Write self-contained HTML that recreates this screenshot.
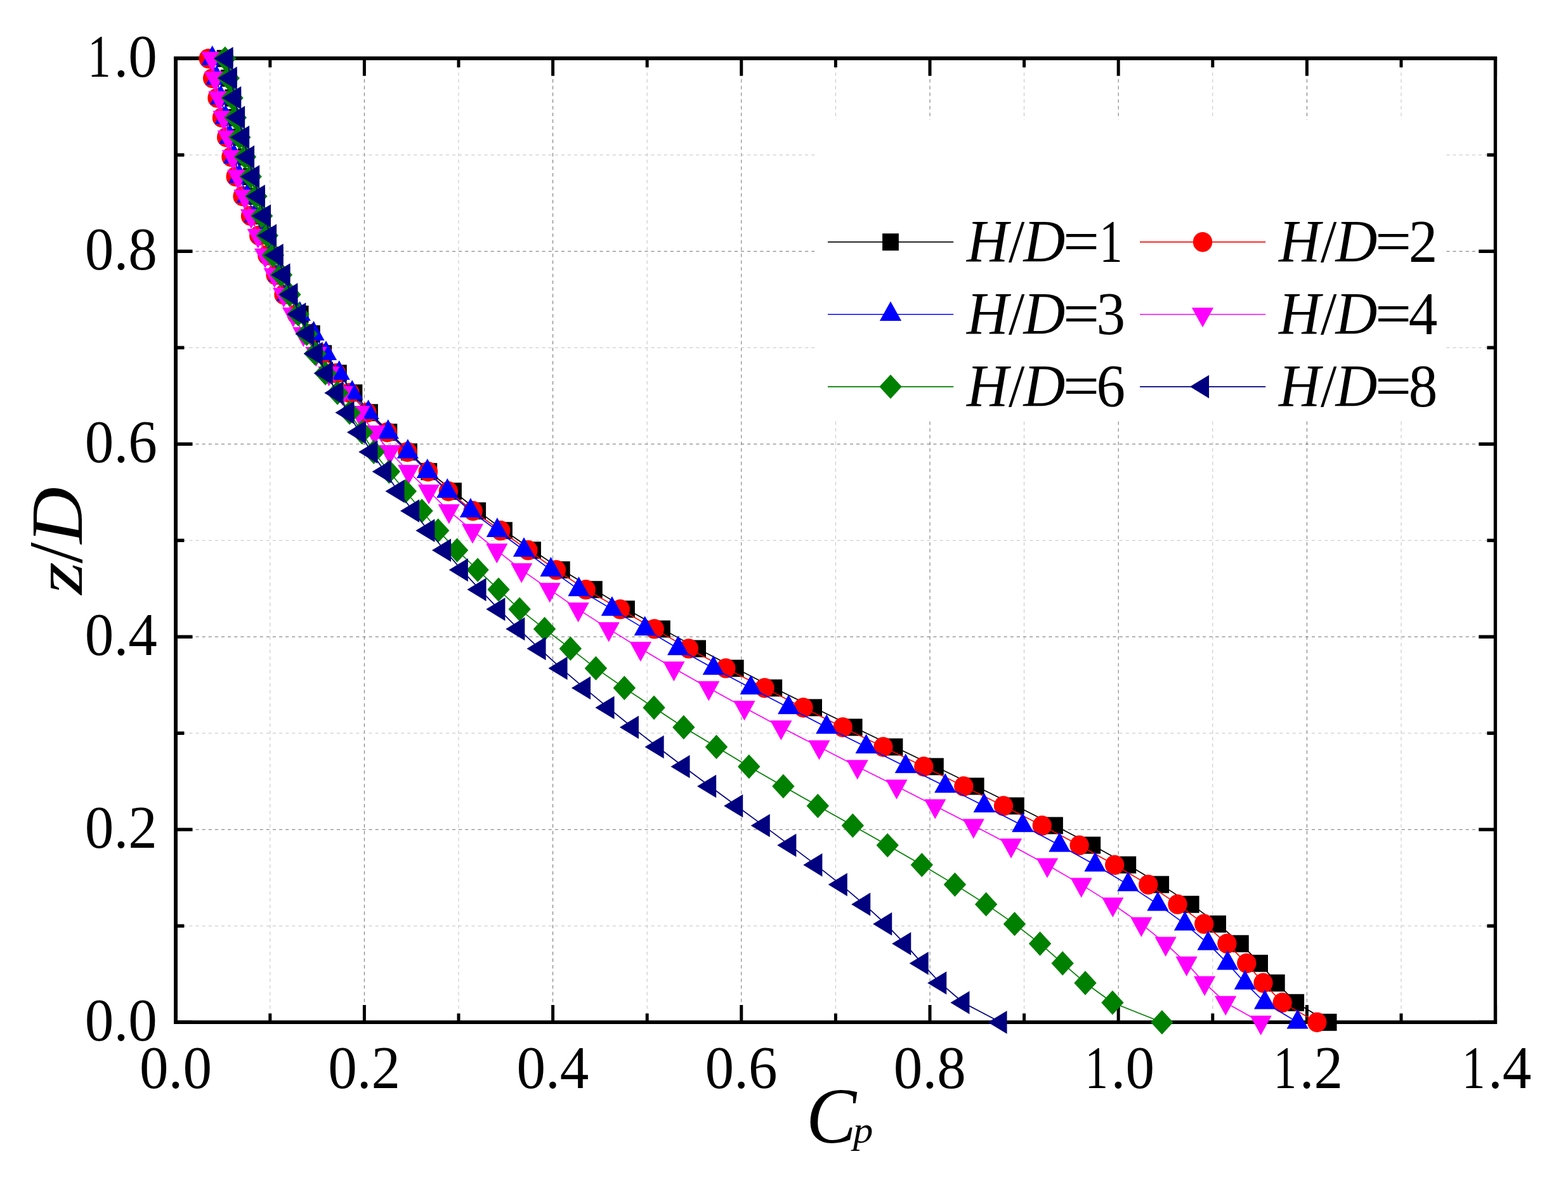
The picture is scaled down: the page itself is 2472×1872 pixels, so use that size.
<!DOCTYPE html>
<html lang="en"><head><meta charset="utf-8"><title>Cp versus z/D</title>
<style>html,body{margin:0;padding:0;background:#fff;overflow:hidden}svg{display:block}text{font-family:"Liberation Serif","DejaVu Serif",serif;fill:#000}.i{font-style:italic}</style></head><body>
<svg width="2472" height="1872" viewBox="0 0 2472 1872">
<rect width="2472" height="1872" fill="#fff"/>
<g fill="none"><line x1="425.8" y1="93.1" x2="425.8" y2="1612.25" stroke="#c2c2c2" stroke-width="1.0" stroke-dasharray="5.4 5.185"/><line x1="574.4" y1="93.1" x2="574.4" y2="1612.25" stroke="#6e6e6e" stroke-width="1.0" stroke-dasharray="5.4 5.185"/><line x1="723" y1="93.1" x2="723" y2="1612.25" stroke="#c2c2c2" stroke-width="1.0" stroke-dasharray="5.4 5.185"/><line x1="871.6" y1="93.1" x2="871.6" y2="1612.25" stroke="#6e6e6e" stroke-width="1.0" stroke-dasharray="5.4 5.185"/><line x1="1020.2" y1="93.1" x2="1020.2" y2="1612.25" stroke="#c2c2c2" stroke-width="1.0" stroke-dasharray="5.4 5.185"/><line x1="1168.8" y1="93.1" x2="1168.8" y2="1612.25" stroke="#6e6e6e" stroke-width="1.0" stroke-dasharray="5.4 5.185"/><line x1="1317.4" y1="93.1" x2="1317.4" y2="1612.25" stroke="#c2c2c2" stroke-width="1.0" stroke-dasharray="5.4 5.185"/><line x1="1466" y1="93.1" x2="1466" y2="1612.25" stroke="#6e6e6e" stroke-width="1.0" stroke-dasharray="5.4 5.185"/><line x1="1614.6" y1="93.1" x2="1614.6" y2="1612.25" stroke="#c2c2c2" stroke-width="1.0" stroke-dasharray="5.4 5.185"/><line x1="1763.2" y1="93.1" x2="1763.2" y2="1612.25" stroke="#6e6e6e" stroke-width="1.0" stroke-dasharray="5.4 5.185"/><line x1="1911.8" y1="93.1" x2="1911.8" y2="1612.25" stroke="#c2c2c2" stroke-width="1.0" stroke-dasharray="5.4 5.185"/><line x1="2060.4" y1="93.1" x2="2060.4" y2="1612.25" stroke="#6e6e6e" stroke-width="1.0" stroke-dasharray="5.4 5.185"/><line x1="2209" y1="93.1" x2="2209" y2="1612.25" stroke="#c2c2c2" stroke-width="1.0" stroke-dasharray="5.4 5.185"/><line x1="278.2" y1="1460.26" x2="2357.6" y2="1460.26" stroke="#c2c2c2" stroke-width="1.0" stroke-dasharray="5.06 5.052"/><line x1="278.2" y1="1308.27" x2="2357.6" y2="1308.27" stroke="#6e6e6e" stroke-width="1.0" stroke-dasharray="5.06 5.052"/><line x1="278.2" y1="1156.28" x2="2357.6" y2="1156.28" stroke="#c2c2c2" stroke-width="1.0" stroke-dasharray="5.06 5.052"/><line x1="278.2" y1="1004.29" x2="2357.6" y2="1004.29" stroke="#6e6e6e" stroke-width="1.0" stroke-dasharray="5.06 5.052"/><line x1="278.2" y1="852.3" x2="2357.6" y2="852.3" stroke="#c2c2c2" stroke-width="1.0" stroke-dasharray="5.06 5.052"/><line x1="278.2" y1="700.31" x2="2357.6" y2="700.31" stroke="#6e6e6e" stroke-width="1.0" stroke-dasharray="5.06 5.052"/><line x1="278.2" y1="548.32" x2="2357.6" y2="548.32" stroke="#c2c2c2" stroke-width="1.0" stroke-dasharray="5.06 5.052"/><line x1="278.2" y1="396.33" x2="2357.6" y2="396.33" stroke="#6e6e6e" stroke-width="1.0" stroke-dasharray="5.06 5.052"/><line x1="278.2" y1="244.34" x2="2357.6" y2="244.34" stroke="#c2c2c2" stroke-width="1.0" stroke-dasharray="5.06 5.052"/></g>
<rect x="1284.5" y="188.8" width="990.5" height="474.2" fill="#fff"/>
<g stroke="#000" fill="none"><line x1="277.2" y1="1612.25" x2="277.2" y2="1584.95" stroke-width="5.0"/><line x1="277.2" y1="92.35" x2="277.2" y2="119.65" stroke-width="5.0"/><line x1="425.8" y1="1612.25" x2="425.8" y2="1598.35" stroke-width="5.0"/><line x1="425.8" y1="92.35" x2="425.8" y2="106.25" stroke-width="5.0"/><line x1="574.4" y1="1612.25" x2="574.4" y2="1584.95" stroke-width="5.0"/><line x1="574.4" y1="92.35" x2="574.4" y2="119.65" stroke-width="5.0"/><line x1="723" y1="1612.25" x2="723" y2="1598.35" stroke-width="5.0"/><line x1="723" y1="92.35" x2="723" y2="106.25" stroke-width="5.0"/><line x1="871.6" y1="1612.25" x2="871.6" y2="1584.95" stroke-width="5.0"/><line x1="871.6" y1="92.35" x2="871.6" y2="119.65" stroke-width="5.0"/><line x1="1020.2" y1="1612.25" x2="1020.2" y2="1598.35" stroke-width="5.0"/><line x1="1020.2" y1="92.35" x2="1020.2" y2="106.25" stroke-width="5.0"/><line x1="1168.8" y1="1612.25" x2="1168.8" y2="1584.95" stroke-width="5.0"/><line x1="1168.8" y1="92.35" x2="1168.8" y2="119.65" stroke-width="5.0"/><line x1="1317.4" y1="1612.25" x2="1317.4" y2="1598.35" stroke-width="5.0"/><line x1="1317.4" y1="92.35" x2="1317.4" y2="106.25" stroke-width="5.0"/><line x1="1466" y1="1612.25" x2="1466" y2="1584.95" stroke-width="5.0"/><line x1="1466" y1="92.35" x2="1466" y2="119.65" stroke-width="5.0"/><line x1="1614.6" y1="1612.25" x2="1614.6" y2="1598.35" stroke-width="5.0"/><line x1="1614.6" y1="92.35" x2="1614.6" y2="106.25" stroke-width="5.0"/><line x1="1763.2" y1="1612.25" x2="1763.2" y2="1584.95" stroke-width="5.0"/><line x1="1763.2" y1="92.35" x2="1763.2" y2="119.65" stroke-width="5.0"/><line x1="1911.8" y1="1612.25" x2="1911.8" y2="1598.35" stroke-width="5.0"/><line x1="1911.8" y1="92.35" x2="1911.8" y2="106.25" stroke-width="5.0"/><line x1="2060.4" y1="1612.25" x2="2060.4" y2="1584.95" stroke-width="5.0"/><line x1="2060.4" y1="92.35" x2="2060.4" y2="119.65" stroke-width="5.0"/><line x1="2209" y1="1612.25" x2="2209" y2="1598.35" stroke-width="5.0"/><line x1="2209" y1="92.35" x2="2209" y2="106.25" stroke-width="5.0"/><line x1="2357.6" y1="1612.25" x2="2357.6" y2="1584.95" stroke-width="5.0"/><line x1="2357.6" y1="92.35" x2="2357.6" y2="119.65" stroke-width="5.0"/><line x1="277.2" y1="1612.25" x2="303.5" y2="1612.25" stroke-width="5.4"/><line x1="2357.6" y1="1612.25" x2="2331.3" y2="1612.25" stroke-width="5.4"/><line x1="277.2" y1="1460.26" x2="290.4" y2="1460.26" stroke-width="5.4"/><line x1="2357.6" y1="1460.26" x2="2344.4" y2="1460.26" stroke-width="5.4"/><line x1="277.2" y1="1308.27" x2="303.5" y2="1308.27" stroke-width="5.4"/><line x1="2357.6" y1="1308.27" x2="2331.3" y2="1308.27" stroke-width="5.4"/><line x1="277.2" y1="1156.28" x2="290.4" y2="1156.28" stroke-width="5.4"/><line x1="2357.6" y1="1156.28" x2="2344.4" y2="1156.28" stroke-width="5.4"/><line x1="277.2" y1="1004.29" x2="303.5" y2="1004.29" stroke-width="5.4"/><line x1="2357.6" y1="1004.29" x2="2331.3" y2="1004.29" stroke-width="5.4"/><line x1="277.2" y1="852.3" x2="290.4" y2="852.3" stroke-width="5.4"/><line x1="2357.6" y1="852.3" x2="2344.4" y2="852.3" stroke-width="5.4"/><line x1="277.2" y1="700.31" x2="303.5" y2="700.31" stroke-width="5.4"/><line x1="2357.6" y1="700.31" x2="2331.3" y2="700.31" stroke-width="5.4"/><line x1="277.2" y1="548.32" x2="290.4" y2="548.32" stroke-width="5.4"/><line x1="2357.6" y1="548.32" x2="2344.4" y2="548.32" stroke-width="5.4"/><line x1="277.2" y1="396.33" x2="303.5" y2="396.33" stroke-width="5.4"/><line x1="2357.6" y1="396.33" x2="2331.3" y2="396.33" stroke-width="5.4"/><line x1="277.2" y1="244.34" x2="290.4" y2="244.34" stroke-width="5.4"/><line x1="2357.6" y1="244.34" x2="2344.4" y2="244.34" stroke-width="5.4"/><line x1="277.2" y1="92.35" x2="303.5" y2="92.35" stroke-width="5.4"/><line x1="2357.6" y1="92.35" x2="2331.3" y2="92.35" stroke-width="5.4"/></g>
<g stroke="#000" fill="none" stroke-linecap="butt"><line x1="274.15" y1="92" x2="2360.1" y2="92" stroke-width="6"/><line x1="274.15" y1="1612.2" x2="2360.1" y2="1612.2" stroke-width="5.7"/><line x1="277.05" y1="89" x2="277.05" y2="1615.05" stroke-width="5.9"/><line x1="2357.45" y1="89" x2="2357.45" y2="1615.05" stroke-width="5.3"/></g>
<g fill="#000000" stroke="none"><polyline points="2094.6,1612.25 2043.2,1581.23 2012.8,1550.21 1986.1,1519.19 1955.9,1488.18 1920.1,1457.16 1877.7,1426.14 1830.2,1395.12 1778.3,1364.1 1722.3,1333.08 1663,1302.07 1601.9,1271.05 1538.7,1240.03 1474.9,1209.01 1410.5,1177.99 1346.7,1146.97 1283.1,1115.96 1220.3,1084.94 1159.8,1053.92 1100.1,1022.9 1043.9,991.88 988,960.86 936.9,929.85 885.8,898.83 840.05,867.81 795,836.79 753.2,805.77 715,774.75 676.3,743.74 645,712.72 613.4,681.7 583,650.68 558.5,619.66 533.85,588.64 510.2,557.63 491.8,526.61 473.65,495.59 456.3,464.57 444.4,433.55 433.6,402.53 423,371.52 414,340.5 404.8,309.48 396.1,278.46 388,247.44 380.1,216.42 373.1,185.41 367.2,154.39 360.65,123.37 354.5,92.35" fill="none" stroke="#000000" stroke-width="1.7" stroke-linejoin="round"/><path d="M2081.7 1598.75h25.8v27h-25.8zM2030.3 1567.73h25.8v27h-25.8zM1999.9 1536.71h25.8v27h-25.8zM1973.2 1505.69h25.8v27h-25.8zM1943 1474.68h25.8v27h-25.8zM1907.2 1443.66h25.8v27h-25.8zM1864.8 1412.64h25.8v27h-25.8zM1817.3 1381.62h25.8v27h-25.8zM1765.4 1350.6h25.8v27h-25.8zM1709.4 1319.58h25.8v27h-25.8zM1650.1 1288.57h25.8v27h-25.8zM1589 1257.55h25.8v27h-25.8zM1525.8 1226.53h25.8v27h-25.8zM1462 1195.51h25.8v27h-25.8zM1397.6 1164.49h25.8v27h-25.8zM1333.8 1133.47h25.8v27h-25.8zM1270.2 1102.46h25.8v27h-25.8zM1207.4 1071.44h25.8v27h-25.8zM1146.9 1040.42h25.8v27h-25.8zM1087.2 1009.4h25.8v27h-25.8zM1031 978.38h25.8v27h-25.8zM975.1 947.36h25.8v27h-25.8zM924 916.35h25.8v27h-25.8zM872.9 885.33h25.8v27h-25.8zM827.15 854.31h25.8v27h-25.8zM782.1 823.29h25.8v27h-25.8zM740.3 792.27h25.8v27h-25.8zM702.1 761.25h25.8v27h-25.8zM663.4 730.24h25.8v27h-25.8zM632.1 699.22h25.8v27h-25.8zM600.5 668.2h25.8v27h-25.8zM570.1 637.18h25.8v27h-25.8zM545.6 606.16h25.8v27h-25.8zM520.95 575.14h25.8v27h-25.8zM497.3 544.13h25.8v27h-25.8zM478.9 513.11h25.8v27h-25.8zM460.75 482.09h25.8v27h-25.8zM443.4 451.07h25.8v27h-25.8zM431.5 420.05h25.8v27h-25.8zM420.7 389.03h25.8v27h-25.8zM410.1 358.02h25.8v27h-25.8zM401.1 327h25.8v27h-25.8zM391.9 295.98h25.8v27h-25.8zM383.2 264.96h25.8v27h-25.8zM375.1 233.94h25.8v27h-25.8zM367.2 202.92h25.8v27h-25.8zM360.2 171.91h25.8v27h-25.8zM354.3 140.89h25.8v27h-25.8zM347.75 109.87h25.8v27h-25.8zM341.6 78.85h25.8v27h-25.8z"/></g>
<g fill="#ff0000" stroke="none"><polyline points="2076.3,1612.25 2021.6,1581.23 1991.5,1550.21 1965.3,1519.19 1934.4,1488.18 1898.2,1457.16 1856.5,1426.14 1810.25,1395.12 1757.2,1364.1 1701.6,1333.08 1642.8,1302.07 1582,1271.05 1519.3,1240.03 1456.3,1209.01 1392.4,1177.99 1328.7,1146.97 1266.5,1115.96 1205.5,1084.94 1144.35,1053.92 1085.9,1022.9 1031.7,991.88 977.8,960.86 923.7,929.85 876.9,898.83 832.5,867.81 789.2,836.79 745.7,805.77 706.9,774.75 674.9,743.74 642.4,712.72 610.6,681.7 578.55,650.68 551.6,619.66 530.2,588.64 508.5,557.63 488,526.61 467.5,495.59 447.4,464.57 434.5,433.55 421.3,402.53 408.2,371.52 395,340.5 382.5,309.48 371.6,278.46 364.4,247.44 357.15,216.42 349.9,185.41 342.5,154.39 335.1,123.37 328.7,92.35" fill="none" stroke="#ff0000" stroke-width="1.7" stroke-linejoin="round"/><ellipse cx="2076.3" cy="1612.25" rx="15.15" ry="15.7"/><ellipse cx="2021.6" cy="1581.23" rx="15.15" ry="15.7"/><ellipse cx="1991.5" cy="1550.21" rx="15.15" ry="15.7"/><ellipse cx="1965.3" cy="1519.19" rx="15.15" ry="15.7"/><ellipse cx="1934.4" cy="1488.18" rx="15.15" ry="15.7"/><ellipse cx="1898.2" cy="1457.16" rx="15.15" ry="15.7"/><ellipse cx="1856.5" cy="1426.14" rx="15.15" ry="15.7"/><ellipse cx="1810.25" cy="1395.12" rx="15.15" ry="15.7"/><ellipse cx="1757.2" cy="1364.1" rx="15.15" ry="15.7"/><ellipse cx="1701.6" cy="1333.08" rx="15.15" ry="15.7"/><ellipse cx="1642.8" cy="1302.07" rx="15.15" ry="15.7"/><ellipse cx="1582" cy="1271.05" rx="15.15" ry="15.7"/><ellipse cx="1519.3" cy="1240.03" rx="15.15" ry="15.7"/><ellipse cx="1456.3" cy="1209.01" rx="15.15" ry="15.7"/><ellipse cx="1392.4" cy="1177.99" rx="15.15" ry="15.7"/><ellipse cx="1328.7" cy="1146.97" rx="15.15" ry="15.7"/><ellipse cx="1266.5" cy="1115.96" rx="15.15" ry="15.7"/><ellipse cx="1205.5" cy="1084.94" rx="15.15" ry="15.7"/><ellipse cx="1144.35" cy="1053.92" rx="15.15" ry="15.7"/><ellipse cx="1085.9" cy="1022.9" rx="15.15" ry="15.7"/><ellipse cx="1031.7" cy="991.88" rx="15.15" ry="15.7"/><ellipse cx="977.8" cy="960.86" rx="15.15" ry="15.7"/><ellipse cx="923.7" cy="929.85" rx="15.15" ry="15.7"/><ellipse cx="876.9" cy="898.83" rx="15.15" ry="15.7"/><ellipse cx="832.5" cy="867.81" rx="15.15" ry="15.7"/><ellipse cx="789.2" cy="836.79" rx="15.15" ry="15.7"/><ellipse cx="745.7" cy="805.77" rx="15.15" ry="15.7"/><ellipse cx="706.9" cy="774.75" rx="15.15" ry="15.7"/><ellipse cx="674.9" cy="743.74" rx="15.15" ry="15.7"/><ellipse cx="642.4" cy="712.72" rx="15.15" ry="15.7"/><ellipse cx="610.6" cy="681.7" rx="15.15" ry="15.7"/><ellipse cx="578.55" cy="650.68" rx="15.15" ry="15.7"/><ellipse cx="551.6" cy="619.66" rx="15.15" ry="15.7"/><ellipse cx="530.2" cy="588.64" rx="15.15" ry="15.7"/><ellipse cx="508.5" cy="557.63" rx="15.15" ry="15.7"/><ellipse cx="488" cy="526.61" rx="15.15" ry="15.7"/><ellipse cx="467.5" cy="495.59" rx="15.15" ry="15.7"/><ellipse cx="447.4" cy="464.57" rx="15.15" ry="15.7"/><ellipse cx="434.5" cy="433.55" rx="15.15" ry="15.7"/><ellipse cx="421.3" cy="402.53" rx="15.15" ry="15.7"/><ellipse cx="408.2" cy="371.52" rx="15.15" ry="15.7"/><ellipse cx="395" cy="340.5" rx="15.15" ry="15.7"/><ellipse cx="382.5" cy="309.48" rx="15.15" ry="15.7"/><ellipse cx="371.6" cy="278.46" rx="15.15" ry="15.7"/><ellipse cx="364.4" cy="247.44" rx="15.15" ry="15.7"/><ellipse cx="357.15" cy="216.42" rx="15.15" ry="15.7"/><ellipse cx="349.9" cy="185.41" rx="15.15" ry="15.7"/><ellipse cx="342.5" cy="154.39" rx="15.15" ry="15.7"/><ellipse cx="335.1" cy="123.37" rx="15.15" ry="15.7"/><ellipse cx="328.7" cy="92.35" rx="15.15" ry="15.7"/></g>
<g fill="#0000ff" stroke="none"><polyline points="2045.6,1612.25 1994.1,1581.23 1962.8,1550.21 1935.3,1519.19 1904.6,1488.18 1868,1457.16 1825.35,1426.14 1778.3,1395.12 1726.5,1364.1 1670.45,1333.08 1612.2,1302.07 1551.6,1271.05 1490.2,1240.03 1427.8,1209.01 1365.6,1177.99 1303.2,1146.97 1243.2,1115.96 1183.7,1084.94 1124.8,1053.92 1069.1,1022.9 1016.7,991.88 964.85,960.86 912.45,929.85 868.5,898.83 826,867.81 783.9,836.79 741.9,805.77 705.3,774.75 673.8,743.74 642.9,712.72 611.8,681.7 580.7,650.68 555.2,619.66 534.7,588.64 514,557.63 494.5,526.61 472.7,495.59 452.7,464.57 440.05,433.55 427.5,402.53 415.4,371.52 401.75,340.5 389.8,309.48 377.3,278.46 369.2,247.44 362.5,216.42 355.6,185.41 348.2,154.39 341.45,123.37 334.7,92.35" fill="none" stroke="#0000ff" stroke-width="1.7" stroke-linejoin="round"/><path d="M2045.6 1591.75l17.1 30.8h-34.2zM1994.1 1560.73l17.1 30.8h-34.2zM1962.8 1529.71l17.1 30.8h-34.2zM1935.3 1498.69l17.1 30.8h-34.2zM1904.6 1467.68l17.1 30.8h-34.2zM1868 1436.66l17.1 30.8h-34.2zM1825.35 1405.64l17.1 30.8h-34.2zM1778.3 1374.62l17.1 30.8h-34.2zM1726.5 1343.6l17.1 30.8h-34.2zM1670.45 1312.58l17.1 30.8h-34.2zM1612.2 1281.57l17.1 30.8h-34.2zM1551.6 1250.55l17.1 30.8h-34.2zM1490.2 1219.53l17.1 30.8h-34.2zM1427.8 1188.51l17.1 30.8h-34.2zM1365.6 1157.49l17.1 30.8h-34.2zM1303.2 1126.47l17.1 30.8h-34.2zM1243.2 1095.46l17.1 30.8h-34.2zM1183.7 1064.44l17.1 30.8h-34.2zM1124.8 1033.42l17.1 30.8h-34.2zM1069.1 1002.4l17.1 30.8h-34.2zM1016.7 971.38l17.1 30.8h-34.2zM964.85 940.36l17.1 30.8h-34.2zM912.45 909.35l17.1 30.8h-34.2zM868.5 878.33l17.1 30.8h-34.2zM826 847.31l17.1 30.8h-34.2zM783.9 816.29l17.1 30.8h-34.2zM741.9 785.27l17.1 30.8h-34.2zM705.3 754.25l17.1 30.8h-34.2zM673.8 723.24l17.1 30.8h-34.2zM642.9 692.22l17.1 30.8h-34.2zM611.8 661.2l17.1 30.8h-34.2zM580.7 630.18l17.1 30.8h-34.2zM555.2 599.16l17.1 30.8h-34.2zM534.7 568.14l17.1 30.8h-34.2zM514 537.13l17.1 30.8h-34.2zM494.5 506.11l17.1 30.8h-34.2zM472.7 475.09l17.1 30.8h-34.2zM452.7 444.07l17.1 30.8h-34.2zM440.05 413.05l17.1 30.8h-34.2zM427.5 382.03l17.1 30.8h-34.2zM415.4 351.02l17.1 30.8h-34.2zM401.75 320l17.1 30.8h-34.2zM389.8 288.98l17.1 30.8h-34.2zM377.3 257.96l17.1 30.8h-34.2zM369.2 226.94l17.1 30.8h-34.2zM362.5 195.92l17.1 30.8h-34.2zM355.6 164.91l17.1 30.8h-34.2zM348.2 133.89l17.1 30.8h-34.2zM341.45 102.87l17.1 30.8h-34.2zM334.7 71.85l17.1 30.8h-34.2z"/></g>
<g fill="#ff00ff" stroke="none"><polyline points="1987.7,1612.25 1932.2,1581.23 1899.1,1550.21 1870.6,1519.19 1837.65,1488.18 1799.3,1457.16 1754.3,1426.14 1704.7,1395.12 1651,1364.1 1594,1333.08 1534.8,1302.07 1474.25,1271.05 1413.5,1240.03 1351.7,1209.01 1291.5,1177.99 1231.4,1146.97 1173.5,1115.96 1117.3,1084.94 1062.4,1053.92 1009.9,1022.9 959.75,991.88 911.6,960.86 866.7,929.85 822.2,898.83 783.3,867.81 745,836.79 707.8,805.77 676,774.75 644.3,743.74 614.5,712.72 590.5,681.7 566.5,650.68 540,619.66 518.5,588.64 498.5,557.63 478.4,526.61 462.2,495.59 447.25,464.57 432.7,433.55 418.1,402.53 406.8,371.52 396,340.5 385.5,309.48 375.2,278.46 366.9,247.44 359.8,216.42 352.5,185.41 345.5,154.39 339,123.37 334.4,92.35" fill="none" stroke="#ff00ff" stroke-width="1.7" stroke-linejoin="round"/><path d="M1987.7 1632.85l17.1 -31.2h-34.2zM1932.2 1601.83l17.1 -31.2h-34.2zM1899.1 1570.81l17.1 -31.2h-34.2zM1870.6 1539.79l17.1 -31.2h-34.2zM1837.65 1508.78l17.1 -31.2h-34.2zM1799.3 1477.76l17.1 -31.2h-34.2zM1754.3 1446.74l17.1 -31.2h-34.2zM1704.7 1415.72l17.1 -31.2h-34.2zM1651 1384.7l17.1 -31.2h-34.2zM1594 1353.68l17.1 -31.2h-34.2zM1534.8 1322.67l17.1 -31.2h-34.2zM1474.25 1291.65l17.1 -31.2h-34.2zM1413.5 1260.63l17.1 -31.2h-34.2zM1351.7 1229.61l17.1 -31.2h-34.2zM1291.5 1198.59l17.1 -31.2h-34.2zM1231.4 1167.57l17.1 -31.2h-34.2zM1173.5 1136.56l17.1 -31.2h-34.2zM1117.3 1105.54l17.1 -31.2h-34.2zM1062.4 1074.52l17.1 -31.2h-34.2zM1009.9 1043.5l17.1 -31.2h-34.2zM959.75 1012.48l17.1 -31.2h-34.2zM911.6 981.46l17.1 -31.2h-34.2zM866.7 950.45l17.1 -31.2h-34.2zM822.2 919.43l17.1 -31.2h-34.2zM783.3 888.41l17.1 -31.2h-34.2zM745 857.39l17.1 -31.2h-34.2zM707.8 826.37l17.1 -31.2h-34.2zM676 795.35l17.1 -31.2h-34.2zM644.3 764.34l17.1 -31.2h-34.2zM614.5 733.32l17.1 -31.2h-34.2zM590.5 702.3l17.1 -31.2h-34.2zM566.5 671.28l17.1 -31.2h-34.2zM540 640.26l17.1 -31.2h-34.2zM518.5 609.24l17.1 -31.2h-34.2zM498.5 578.23l17.1 -31.2h-34.2zM478.4 547.21l17.1 -31.2h-34.2zM462.2 516.19l17.1 -31.2h-34.2zM447.25 485.17l17.1 -31.2h-34.2zM432.7 454.15l17.1 -31.2h-34.2zM418.1 423.13l17.1 -31.2h-34.2zM406.8 392.12l17.1 -31.2h-34.2zM396 361.1l17.1 -31.2h-34.2zM385.5 330.08l17.1 -31.2h-34.2zM375.2 299.06l17.1 -31.2h-34.2zM366.9 268.04l17.1 -31.2h-34.2zM359.8 237.02l17.1 -31.2h-34.2zM352.5 206.01l17.1 -31.2h-34.2zM345.5 174.99l17.1 -31.2h-34.2zM339 143.97l17.1 -31.2h-34.2zM334.4 112.95l17.1 -31.2h-34.2z"/></g>
<g fill="#008000" stroke="none"><polyline points="1831.9,1612.25 1753.9,1581.23 1711,1550.21 1675.2,1519.19 1639.6,1488.18 1599.5,1457.16 1554.6,1426.14 1505.4,1395.12 1453.3,1364.1 1399.2,1333.08 1344.35,1302.07 1289.3,1271.05 1234.9,1240.03 1180.8,1209.01 1129.45,1177.99 1077.85,1146.97 1031.05,1115.96 984.35,1084.94 939.4,1053.92 899.35,1022.9 858.55,991.88 819.1,960.86 786,929.85 753.1,898.83 720.6,867.81 690.7,836.79 665.05,805.77 639.3,774.75 613.4,743.74 589.2,712.72 570.6,681.7 551.2,650.68 532,619.66 513,588.64 496.8,557.63 483.5,526.61 470.15,495.59 456.8,464.57 443.4,433.55 430.4,402.53 421.3,371.52 412.6,340.5 403.9,309.48 395.2,278.46 386.5,247.44 377.8,216.42 371.3,185.41 366.1,154.39 360.3,123.37 354.8,92.35" fill="none" stroke="#008000" stroke-width="1.7" stroke-linejoin="round"/><path d="M1831.9 1593.05l17.7 19.2l-17.7 19.2l-17.7 -19.2zM1753.9 1562.03l17.7 19.2l-17.7 19.2l-17.7 -19.2zM1711 1531.01l17.7 19.2l-17.7 19.2l-17.7 -19.2zM1675.2 1499.99l17.7 19.2l-17.7 19.2l-17.7 -19.2zM1639.6 1468.98l17.7 19.2l-17.7 19.2l-17.7 -19.2zM1599.5 1437.96l17.7 19.2l-17.7 19.2l-17.7 -19.2zM1554.6 1406.94l17.7 19.2l-17.7 19.2l-17.7 -19.2zM1505.4 1375.92l17.7 19.2l-17.7 19.2l-17.7 -19.2zM1453.3 1344.9l17.7 19.2l-17.7 19.2l-17.7 -19.2zM1399.2 1313.88l17.7 19.2l-17.7 19.2l-17.7 -19.2zM1344.35 1282.87l17.7 19.2l-17.7 19.2l-17.7 -19.2zM1289.3 1251.85l17.7 19.2l-17.7 19.2l-17.7 -19.2zM1234.9 1220.83l17.7 19.2l-17.7 19.2l-17.7 -19.2zM1180.8 1189.81l17.7 19.2l-17.7 19.2l-17.7 -19.2zM1129.45 1158.79l17.7 19.2l-17.7 19.2l-17.7 -19.2zM1077.85 1127.77l17.7 19.2l-17.7 19.2l-17.7 -19.2zM1031.05 1096.76l17.7 19.2l-17.7 19.2l-17.7 -19.2zM984.35 1065.74l17.7 19.2l-17.7 19.2l-17.7 -19.2zM939.4 1034.72l17.7 19.2l-17.7 19.2l-17.7 -19.2zM899.35 1003.7l17.7 19.2l-17.7 19.2l-17.7 -19.2zM858.55 972.68l17.7 19.2l-17.7 19.2l-17.7 -19.2zM819.1 941.66l17.7 19.2l-17.7 19.2l-17.7 -19.2zM786 910.65l17.7 19.2l-17.7 19.2l-17.7 -19.2zM753.1 879.63l17.7 19.2l-17.7 19.2l-17.7 -19.2zM720.6 848.61l17.7 19.2l-17.7 19.2l-17.7 -19.2zM690.7 817.59l17.7 19.2l-17.7 19.2l-17.7 -19.2zM665.05 786.57l17.7 19.2l-17.7 19.2l-17.7 -19.2zM639.3 755.55l17.7 19.2l-17.7 19.2l-17.7 -19.2zM613.4 724.54l17.7 19.2l-17.7 19.2l-17.7 -19.2zM589.2 693.52l17.7 19.2l-17.7 19.2l-17.7 -19.2zM570.6 662.5l17.7 19.2l-17.7 19.2l-17.7 -19.2zM551.2 631.48l17.7 19.2l-17.7 19.2l-17.7 -19.2zM532 600.46l17.7 19.2l-17.7 19.2l-17.7 -19.2zM513 569.44l17.7 19.2l-17.7 19.2l-17.7 -19.2zM496.8 538.43l17.7 19.2l-17.7 19.2l-17.7 -19.2zM483.5 507.41l17.7 19.2l-17.7 19.2l-17.7 -19.2zM470.15 476.39l17.7 19.2l-17.7 19.2l-17.7 -19.2zM456.8 445.37l17.7 19.2l-17.7 19.2l-17.7 -19.2zM443.4 414.35l17.7 19.2l-17.7 19.2l-17.7 -19.2zM430.4 383.33l17.7 19.2l-17.7 19.2l-17.7 -19.2zM421.3 352.32l17.7 19.2l-17.7 19.2l-17.7 -19.2zM412.6 321.3l17.7 19.2l-17.7 19.2l-17.7 -19.2zM403.9 290.28l17.7 19.2l-17.7 19.2l-17.7 -19.2zM395.2 259.26l17.7 19.2l-17.7 19.2l-17.7 -19.2zM386.5 228.24l17.7 19.2l-17.7 19.2l-17.7 -19.2zM377.8 197.22l17.7 19.2l-17.7 19.2l-17.7 -19.2zM371.3 166.21l17.7 19.2l-17.7 19.2l-17.7 -19.2zM366.1 135.19l17.7 19.2l-17.7 19.2l-17.7 -19.2zM360.3 104.17l17.7 19.2l-17.7 19.2l-17.7 -19.2zM354.8 73.15l17.7 19.2l-17.7 19.2l-17.7 -19.2z"/></g>
<g fill="#000080" stroke="none"><polyline points="1577.5,1612.25 1518.4,1581.23 1482.2,1550.21 1453.65,1519.19 1426.2,1488.18 1396.2,1457.16 1362.2,1426.14 1325.75,1395.12 1286.35,1364.1 1245.3,1333.08 1203.7,1302.07 1161.2,1271.05 1119.1,1240.03 1077.45,1209.01 1036.6,1177.99 996.9,1146.97 958.5,1115.96 921,1084.94 884.5,1053.92 850.5,1022.9 817.3,991.88 786.35,960.86 756.5,929.85 727.8,898.83 701,867.81 675.35,836.79 651,805.77 627.5,774.75 606.7,743.74 585.3,712.72 566.9,681.7 548.45,650.68 531.3,619.66 514.7,588.64 498.7,557.63 485.3,526.61 472.3,495.59 459.3,464.57 447.4,433.55 436.6,402.53 426,371.52 417,340.5 407.8,309.48 399.1,278.46 391,247.44 383.1,216.42 376.1,185.41 370.2,154.39 363.65,123.37 357.5,92.35" fill="none" stroke="#000080" stroke-width="1.7" stroke-linejoin="round"/><path d="M1557.45 1612.25l30.1 -18.3v36.6zM1498.35 1581.23l30.1 -18.3v36.6zM1462.15 1550.21l30.1 -18.3v36.6zM1433.6 1519.19l30.1 -18.3v36.6zM1406.15 1488.18l30.1 -18.3v36.6zM1376.15 1457.16l30.1 -18.3v36.6zM1342.15 1426.14l30.1 -18.3v36.6zM1305.7 1395.12l30.1 -18.3v36.6zM1266.3 1364.1l30.1 -18.3v36.6zM1225.25 1333.08l30.1 -18.3v36.6zM1183.65 1302.07l30.1 -18.3v36.6zM1141.15 1271.05l30.1 -18.3v36.6zM1099.05 1240.03l30.1 -18.3v36.6zM1057.4 1209.01l30.1 -18.3v36.6zM1016.55 1177.99l30.1 -18.3v36.6zM976.85 1146.97l30.1 -18.3v36.6zM938.45 1115.96l30.1 -18.3v36.6zM900.95 1084.94l30.1 -18.3v36.6zM864.45 1053.92l30.1 -18.3v36.6zM830.45 1022.9l30.1 -18.3v36.6zM797.25 991.88l30.1 -18.3v36.6zM766.3 960.86l30.1 -18.3v36.6zM736.45 929.85l30.1 -18.3v36.6zM707.75 898.83l30.1 -18.3v36.6zM680.95 867.81l30.1 -18.3v36.6zM655.3 836.79l30.1 -18.3v36.6zM630.95 805.77l30.1 -18.3v36.6zM607.45 774.75l30.1 -18.3v36.6zM586.65 743.74l30.1 -18.3v36.6zM565.25 712.72l30.1 -18.3v36.6zM546.85 681.7l30.1 -18.3v36.6zM528.4 650.68l30.1 -18.3v36.6zM511.25 619.66l30.1 -18.3v36.6zM494.65 588.64l30.1 -18.3v36.6zM478.65 557.63l30.1 -18.3v36.6zM465.25 526.61l30.1 -18.3v36.6zM452.25 495.59l30.1 -18.3v36.6zM439.25 464.57l30.1 -18.3v36.6zM427.35 433.55l30.1 -18.3v36.6zM416.55 402.53l30.1 -18.3v36.6zM405.95 371.52l30.1 -18.3v36.6zM396.95 340.5l30.1 -18.3v36.6zM387.75 309.48l30.1 -18.3v36.6zM379.05 278.46l30.1 -18.3v36.6zM370.95 247.44l30.1 -18.3v36.6zM363.05 216.42l30.1 -18.3v36.6zM356.05 185.41l30.1 -18.3v36.6zM350.15 154.39l30.1 -18.3v36.6zM343.6 123.37l30.1 -18.3v36.6zM337.45 92.35l30.1 -18.3v36.6z"/></g>
<g fill="#000000"><line x1="1305" y1="381.7" x2="1503.2" y2="381.7" stroke="#000000" stroke-width="1.7"/><path d="M1391.1 368.2h25.8v27h-25.8z"/></g>
<text transform="translate(1524 413.3) scale(0.95 1)" x="0 69.47 94.21 160.05 220.17" y="0" font-size="96"><tspan class="i">H</tspan>/<tspan class="i">D</tspan><tspan textLength="60.2" lengthAdjust="spacingAndGlyphs">=</tspan><tspan textLength="38.4" lengthAdjust="spacingAndGlyphs">1</tspan></text>
<g fill="#ff0000"><line x1="1797" y1="381.7" x2="1995.2" y2="381.7" stroke="#ff0000" stroke-width="1.7"/><ellipse cx="1896" cy="381.7" rx="15.15" ry="15.7"/></g>
<text transform="translate(2016.05 413.3) scale(0.95 1)" x="0 69.47 94.21 160.05 215.37" y="0" font-size="96"><tspan class="i">H</tspan>/<tspan class="i">D</tspan><tspan textLength="60.2" lengthAdjust="spacingAndGlyphs">=</tspan>2</text>
<g fill="#0000ff"><line x1="1305" y1="495.75" x2="1503.2" y2="495.75" stroke="#0000ff" stroke-width="1.7"/><path d="M1404 475.25l17.1 30.8h-34.2z"/></g>
<text transform="translate(1524 527.35) scale(0.95 1)" x="0 69.47 94.21 160.05 215.37" y="0" font-size="96"><tspan class="i">H</tspan>/<tspan class="i">D</tspan><tspan textLength="60.2" lengthAdjust="spacingAndGlyphs">=</tspan>3</text>
<g fill="#ff00ff"><line x1="1797" y1="495.75" x2="1995.2" y2="495.75" stroke="#ff00ff" stroke-width="1.7"/><path d="M1896 516.35l17.1 -31.2h-34.2z"/></g>
<text transform="translate(2016.05 527.35) scale(0.95 1)" x="0 69.47 94.21 160.05 215.37" y="0" font-size="96"><tspan class="i">H</tspan>/<tspan class="i">D</tspan><tspan textLength="60.2" lengthAdjust="spacingAndGlyphs">=</tspan>4</text>
<g fill="#008000"><line x1="1305" y1="609.85" x2="1503.2" y2="609.85" stroke="#008000" stroke-width="1.7"/><path d="M1404 590.65l17.7 19.2l-17.7 19.2l-17.7 -19.2z"/></g>
<text transform="translate(1524 641.45) scale(0.95 1)" x="0 69.47 94.21 160.05 215.37" y="0" font-size="96"><tspan class="i">H</tspan>/<tspan class="i">D</tspan><tspan textLength="60.2" lengthAdjust="spacingAndGlyphs">=</tspan>6</text>
<g fill="#000080"><line x1="1797" y1="609.85" x2="1995.2" y2="609.85" stroke="#000080" stroke-width="1.7"/><path d="M1875.95 609.85l30.1 -18.3v36.6z"/></g>
<text transform="translate(2016.05 641.45) scale(0.95 1)" x="0 69.47 94.21 160.05 215.37" y="0" font-size="96"><tspan class="i">H</tspan>/<tspan class="i">D</tspan><tspan textLength="60.2" lengthAdjust="spacingAndGlyphs">=</tspan>8</text>
<text transform="translate(277 1715.7) scale(0.95 1)" x="-60 -12 12" y="0" font-size="96">0.0</text>
<text transform="translate(574.2 1715.7) scale(0.95 1)" x="-60 -12 12" y="0" font-size="96">0.2</text>
<text transform="translate(871.4 1715.7) scale(0.95 1)" x="-60 -12 12" y="0" font-size="96">0.4</text>
<text transform="translate(1168.6 1715.7) scale(0.95 1)" x="-60 -12 12" y="0" font-size="96">0.6</text>
<text transform="translate(1465.8 1715.7) scale(0.95 1)" x="-60 -12 12" y="0" font-size="96">0.8</text>
<text transform="translate(1763 1715.7) scale(0.95 1)" x="-55.2 -12 12" y="0" font-size="96"><tspan textLength="38.4" lengthAdjust="spacingAndGlyphs">1</tspan>.0</text>
<text transform="translate(2060.2 1715.7) scale(0.95 1)" x="-55.2 -12 12" y="0" font-size="96"><tspan textLength="38.4" lengthAdjust="spacingAndGlyphs">1</tspan>.2</text>
<text transform="translate(2357.4 1715.7) scale(0.95 1)" x="-55.2 -12 12" y="0" font-size="96"><tspan textLength="38.4" lengthAdjust="spacingAndGlyphs">1</tspan>.4</text>
<text transform="translate(247.8 1641.15) scale(0.95 1)" x="-120 -72 -48" y="0" font-size="96">0.0</text>
<text transform="translate(247.8 1337.17) scale(0.95 1)" x="-120 -72 -48" y="0" font-size="96">0.2</text>
<text transform="translate(247.8 1033.19) scale(0.95 1)" x="-120 -72 -48" y="0" font-size="96">0.4</text>
<text transform="translate(247.8 729.21) scale(0.95 1)" x="-120 -72 -48" y="0" font-size="96">0.6</text>
<text transform="translate(247.8 425.23) scale(0.95 1)" x="-120 -72 -48" y="0" font-size="96">0.8</text>
<text transform="translate(247.8 121.25) scale(0.95 1)" x="-115.2 -72 -48" y="0" font-size="96"><tspan textLength="38.4" lengthAdjust="spacingAndGlyphs">1</tspan>.0</text>
<text transform="translate(1271 1801.7) scale(0.95 1)" font-size="125" class="i">C<tspan font-size="59" dx="-5.5" textLength="33" lengthAdjust="spacingAndGlyphs">p</tspan></text>
<text transform="translate(129.4 937.5) rotate(-90) scale(1 0.935)" x="0 49.1 80" y="0" font-size="124"><tspan class="i" font-size="112.6" textLength="51.25" lengthAdjust="spacingAndGlyphs">z</tspan><tspan font-size="128.5" textLength="33.3" lengthAdjust="spacingAndGlyphs">/</tspan><tspan class="i" font-size="124">D</tspan></text>
</svg></body></html>
